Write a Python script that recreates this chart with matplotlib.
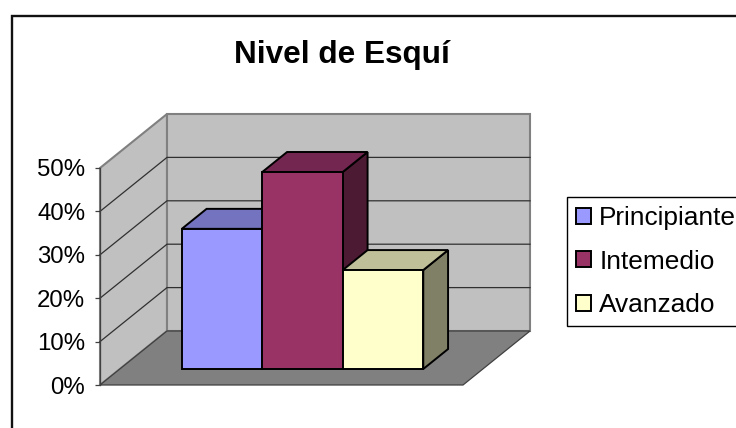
import matplotlib

matplotlib.use("Agg")
import matplotlib.pyplot as plt
from matplotlib.patches import Patch, Polygon, Rectangle

plt.rcParams["font.family"] = ["Liberation Sans", "DejaVu Sans"]

# data
title = "Nivel de Esquí"
categories = ["Principiante", "Intemedio", "Avanzado"]
values = [32.3, 45.4, 22.8]
tick_values = [0, 10, 20, 30, 40, 50]
tick_labels = ["0%", "10%", "20%", "30%", "40%", "50%"]

# colours: front, top, side
fronts = ["#9999ff", "#993366", "#ffffcc"]
tops = ["#7373bf", "#732650", "#bfbf99"]
sides = ["#4d4d80", "#4d1a33", "#808066"]

W, H = 736, 428
fig = plt.figure(figsize=(W / 100, H / 100), dpi=100)
fig.patch.set_facecolor("white")

# outer chart border, runs off the right and bottom of the image
fig.patches.append(
    Rectangle((11.5 / W, -0.1), 1, 1.1 - 15.5 / H, transform=fig.transFigure,
              fill=False, ec="#111111", lw=1.7)
)

ax = fig.add_axes([100 / W, 1 - 385 / H, 363 / W, 217 / H])
ax.set_xlim(-1.27, 3.24)
ax.set_ylim(0, 50)
ax.patch.set_visible(False)

x_left, x_right = ax.get_xlim()
unit_x = 363 / (x_right - x_left)
unit_y = 217 / 50
depth_x = 67 / unit_x
depth_y = 54 / unit_y


def proj(x, y, d):
    # d = 0 at the front of the floor, 1 at the back wall
    return (x + d * depth_x, y + d * depth_y)


def poly(points, color, edge, lw, z):
    ax.add_patch(Polygon(points, closed=True, fc=color, ec=edge, lw=lw,
                         zorder=z, clip_on=False, joinstyle="miter"))


# walls and floor
poly([proj(x_left, 0, 0), proj(x_left, 50, 0), proj(x_left, 50, 1), proj(x_left, 0, 1)],
     "#c0c0c0", "#808080", 1.5, 1)
poly([proj(x_left, 0, 1), proj(x_left, 50, 1), proj(x_right, 50, 1), proj(x_right, 0, 1)],
     "#c0c0c0", "#808080", 1.5, 1)
poly([proj(x_left, 0, 0), proj(x_right, 0, 0), proj(x_right, 0, 1), proj(x_left, 0, 1)],
     "#808080", "#404040", 0.9, 1.5)

# gridlines over side wall and back wall
for t in tick_values[1:-1]:
    a, b, c = proj(x_left, t, 0), proj(x_left, t, 1), proj(x_right, t, 1)
    ax.plot([a[0], b[0], c[0]], [a[1], b[1], c[1]], color="#303030", lw=0.9,
            zorder=2, clip_on=False)

# bars
d0, d1 = 0.296, 0.296 + 0.37
for i, v in enumerate(values):
    l, r = i - 0.5, i + 0.5
    z = 3 + i
    poly([proj(r, 0, d0), proj(r, v, d0), proj(r, v, d1), proj(r, 0, d1)],
         sides[i], "black", 1.4, z)
    poly([proj(l, v, d0), proj(r, v, d0), proj(r, v, d1), proj(l, v, d1)],
         tops[i], "black", 1.4, z)
    poly([proj(l, 0, d0), proj(r, 0, d0), proj(r, v, d0), proj(l, v, d0)],
         fronts[i], "black", 1.4, z)

# axis
for name in ["top", "right", "bottom"]:
    ax.spines[name].set_visible(False)
ax.spines["left"].set_color("#404040")
ax.spines["left"].set_linewidth(0.9)
ax.spines["left"].set_zorder(2.5)
ax.set_xticks([])
ax.set_yticks(tick_values)
ax.set_yticklabels(tick_labels, fontsize=17.3, color="black")
ax.tick_params(axis="y", length=3.6, width=0.9, color="#404040", pad=7)

fig.text(342 / W, 1 - 55 / H, title, fontsize=22.7, fontweight="bold",
         ha="center", va="center")

handles = [Patch(fc=c, ec="black", lw=1.4) for c in fronts]
ax.legend(
    handles, categories,
    loc="upper left",
    bbox_to_anchor=(567 / W, 1 - 197 / H),
    bbox_transform=fig.transFigure,
    fontsize=18.9,
    frameon=True,
    fancybox=False,
    framealpha=1,
    edgecolor="black",
    borderaxespad=0,
    handlelength=0.57,
    handleheight=0.57,
    handletextpad=0.31,
    labelspacing=0.74,
    borderpad=0.35,
)

plt.savefig("out.png", dpi=100)
plt.close()
